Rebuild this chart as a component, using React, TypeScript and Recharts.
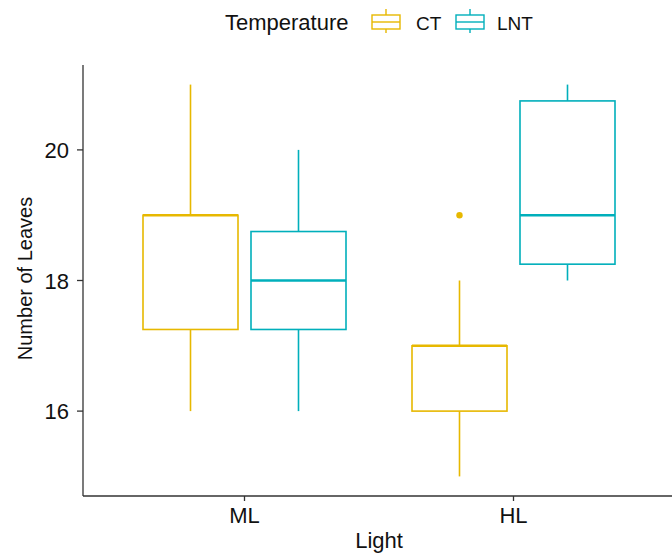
import React from 'react';
import { ComposedChart, Bar, XAxis, YAxis } from 'recharts';

// ---- data ----
const categories = ['ML', 'HL'];
const seriesNames = ['CT', 'LNT'];

const ctMin = [16, 15];
const ctQ1 = [17.25, 16];
const ctMedian = [19, 17];
const ctQ3 = [19, 17];
const ctMax = [21, 18];
const ctOutliers: number[][] = [[], [19]];

const lntMin = [16, 18];
const lntQ1 = [17.25, 18.25];
const lntMedian = [18, 19];
const lntQ3 = [18.75, 20.75];
const lntMax = [20, 21];
const lntOutliers: number[][] = [[], []];

const yTicks = [16, 18, 20];
const yDomain = [14.7, 21.3];

const COLORS: Record<string, string> = { CT: '#E7B800', LNT: '#00AFBB' };
const FONT = '"Liberation Sans", Arial, sans-serif';
const TEXT = '#111';
const AXIS = '#333';

const data = categories.map((c, i) => ({
  light: c,
  CT: [ctMin[i], ctMax[i]],
  LNT: [lntMin[i], lntMax[i]],
  CTstats: { min: ctMin[i], q1: ctQ1[i], med: ctMedian[i], q3: ctQ3[i], max: ctMax[i], out: ctOutliers[i] },
  LNTstats: { min: lntMin[i], q1: lntQ1[i], med: lntMedian[i], q3: lntQ3[i], max: lntMax[i], out: lntOutliers[i] },
}));

const makeBoxShape = (key: string) => (props: any) => {
  const { x, y, width, height, payload } = props;
  const s = payload[key + 'stats'];
  const color = COLORS[key];
  const top = Math.min(y, y + height);
  const bottom = Math.max(y, y + height);
  const pix = (v: number) => bottom - ((v - s.min) / (s.max - s.min)) * (bottom - top);
  const cx = x + width / 2;
  const sw = 1.6;
  return (
    <g>
      <line x1={cx} x2={cx} y1={pix(s.max)} y2={pix(s.q3)} stroke={color} strokeWidth={sw} />
      <line x1={cx} x2={cx} y1={pix(s.q1)} y2={pix(s.min)} stroke={color} strokeWidth={sw} />
      <rect x={x} y={pix(s.q3)} width={width} height={pix(s.q1) - pix(s.q3)} fill="#fff" stroke={color} strokeWidth={sw} />
      <line x1={x} x2={x + width} y1={pix(s.med)} y2={pix(s.med)} stroke={color} strokeWidth={2.6} />
      {s.out.map((o: number, j: number) => (
        <circle key={j} cx={cx} cy={pix(o)} r={3.2} fill={color} />
      ))}
    </g>
  );
};

const YTick = (props: any) => {
  const { x, y, payload } = props;
  return (
    <text x={x} y={y} dy="0.37em" textAnchor="end" fontFamily={FONT} fontSize={22} fill={TEXT}>
      {payload.value}
    </text>
  );
};

const XTick = (props: any) => {
  const { x, y, payload } = props;
  return (
    <text x={x} y={y} dy={20} textAnchor="middle" fontFamily={FONT} fontSize={22} fill={TEXT}>
      {payload.value}
    </text>
  );
};

const XTitle = (props: any) => {
  const vb = props.viewBox || { x: 83, y: 496, width: 592 };
  return (
    <text x={vb.x + vb.width / 2} y={vb.y + 52} textAnchor="middle" fontFamily={FONT} fontSize={22} fill={TEXT}>
      Light
    </text>
  );
};

const YTitle = (props: any) => {
  const vb = props.viewBox || { x: 23, y: 65, width: 60, height: 431 };
  const cx = 32;
  const cy = vb.y + vb.height / 2 - 2;
  return (
    <text x={cx} y={cy} transform={`rotate(-90, ${cx}, ${cy})`} textAnchor="middle" fontFamily={FONT} fontSize={20} fill={TEXT}>
      Number of Leaves
    </text>
  );
};

const LegendOverlay = () => {
  const keyBox = (x0: number, color: string) => (
    <g>
      <line x1={x0 + 14} x2={x0 + 14} y1={9} y2={15} stroke={color} strokeWidth={1.4} />
      <line x1={x0 + 14} x2={x0 + 14} y1={29} y2={33} stroke={color} strokeWidth={1.4} />
      <rect x={x0} y={15} width={28} height={14} fill="#fff" stroke={color} strokeWidth={1.4} />
      <line x1={x0} x2={x0 + 28} y1={22} y2={22} stroke={color} strokeWidth={1.4} />
    </g>
  );
  return (
    <svg width={672} height={42} style={{ position: 'absolute', left: 0, top: 0 }}>
      <text x={225} y={30} fontFamily={FONT} fontSize={22} fill={TEXT}>Temperature</text>
      {keyBox(372, COLORS[seriesNames[0]])}
      <text x={416} y={29.5} fontFamily={FONT} fontSize={19} fill={TEXT}>{seriesNames[0]}</text>
      {keyBox(456, COLORS[seriesNames[1]])}
      <text x={497} y={29.5} fontFamily={FONT} fontSize={19} fill={TEXT}>{seriesNames[1]}</text>
    </svg>
  );
};

export default function App() {
  return (
    <div style={{ position: 'absolute', left: 0, top: 0, width: 672, height: 556, overflow: 'hidden', background: '#fff' }}>
      <ComposedChart
        width={680}
        height={556}
        data={data}
        margin={{ top: 65, right: 5, bottom: 0, left: 23 }}
        barSize={95}
        barGap={13}
      >
        <XAxis
          dataKey="light"
          type="category"
          padding={{ left: 27, right: 27 }}
          height={60}
          tickSize={5}
          tickMargin={2}
          tick={<XTick />}
          axisLine={{ stroke: AXIS, strokeWidth: 1.3 }}
          tickLine={{ stroke: AXIS, strokeWidth: 1.3 }}
          label={<XTitle />}
          interval={0}
        />
        <YAxis
          type="number"
          domain={yDomain}
          ticks={yTicks}
          allowDataOverflow
          width={60}
          tickSize={6}
          tickMargin={8}
          tick={<YTick />}
          axisLine={{ stroke: AXIS, strokeWidth: 1.3 }}
          tickLine={{ stroke: AXIS, strokeWidth: 1.3 }}
          label={<YTitle />}
        />
        <Bar dataKey="CT" isAnimationActive={false} shape={makeBoxShape('CT')} />
        <Bar dataKey="LNT" isAnimationActive={false} shape={makeBoxShape('LNT')} />
      </ComposedChart>
      <LegendOverlay />
    </div>
  );
}
